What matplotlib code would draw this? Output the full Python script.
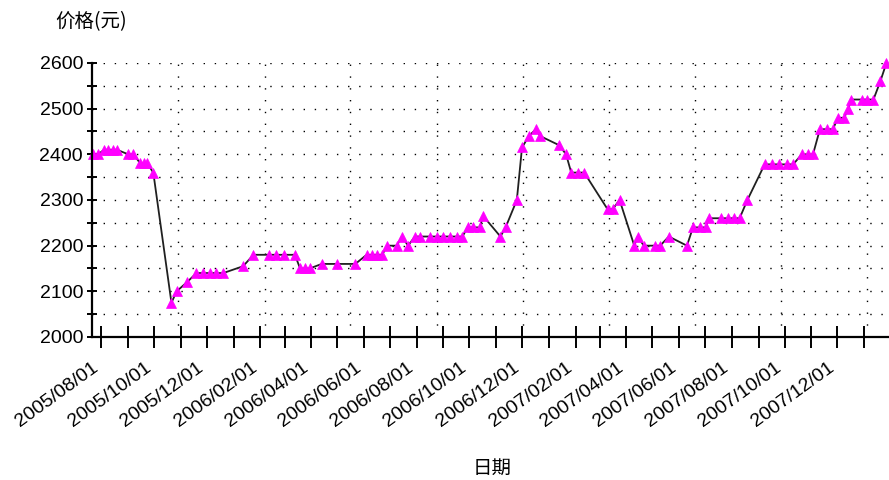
import matplotlib
matplotlib.use("Agg")
import matplotlib.pyplot as plt
import matplotlib.dates as mdates
import numpy as np

# ---- data ----
dates = [
    "2005-07-22", "2005-07-28", "2005-08-04", "2005-08-09", "2005-08-14", "2005-08-19",
    "2005-09-01", "2005-09-07", "2005-09-15", "2005-09-19", "2005-09-23", "2005-09-30",
    "2005-10-21", "2005-10-27", "2005-11-08", "2005-11-19", "2005-11-27", "2005-12-05",
    "2005-12-12", "2005-12-20", "2006-01-12", "2006-01-24", "2006-02-11", "2006-02-19",
    "2006-02-28", "2006-03-13", "2006-03-19", "2006-03-25", "2006-03-30", "2006-04-13",
    "2006-05-01", "2006-05-22", "2006-06-04", "2006-06-10", "2006-06-16", "2006-06-22",
    "2006-06-28", "2006-07-09", "2006-07-15", "2006-07-22", "2006-07-30", "2006-08-05",
    "2006-08-17", "2006-08-25", "2006-09-01", "2006-09-09", "2006-09-17", "2006-09-23",
    "2006-09-29", "2006-10-05", "2006-10-13", "2006-10-17", "2006-11-06", "2006-11-12",
    "2006-11-25", "2006-12-01", "2006-12-09", "2006-12-17", "2006-12-22", "2007-01-13",
    "2007-01-21", "2007-01-27", "2007-02-04", "2007-02-11", "2007-03-10", "2007-03-16",
    "2007-03-24", "2007-04-10", "2007-04-14", "2007-04-21", "2007-05-04", "2007-05-10",
    "2007-05-20", "2007-06-10", "2007-06-17", "2007-06-25", "2007-07-02", "2007-07-05",
    "2007-07-20", "2007-07-27", "2007-08-04", "2007-08-10", "2007-08-19", "2007-09-08",
    "2007-09-17", "2007-09-25", "2007-10-04", "2007-10-11", "2007-10-21", "2007-10-28",
    "2007-11-03", "2007-11-11", "2007-11-19", "2007-11-26", "2007-12-02", "2007-12-09",
    "2007-12-14", "2007-12-17", "2007-12-30", "2008-01-05", "2008-01-12", "2008-01-20",
    "2008-01-27",
]
prices = [
    2400, 2400, 2410, 2410, 2410, 2410,
    2400, 2400, 2380, 2380, 2380, 2360,
    2075, 2100, 2120, 2140, 2140, 2140,
    2140, 2140, 2155, 2180, 2180, 2180,
    2180, 2180, 2150, 2150, 2150, 2160,
    2160, 2160, 2180, 2180, 2180, 2180,
    2200, 2200, 2220, 2200, 2220, 2220,
    2220, 2220, 2220, 2220, 2220, 2220,
    2240, 2240, 2240, 2265, 2220, 2240,
    2300, 2415, 2440, 2455, 2440, 2420,
    2400, 2360, 2360, 2360, 2280, 2280,
    2300, 2200, 2220, 2200, 2200, 2200,
    2220, 2200, 2240, 2240, 2240, 2260,
    2260, 2260, 2260, 2260, 2300, 2378,
    2378, 2378, 2378, 2378, 2400, 2400,
    2400, 2455, 2455, 2455, 2480, 2480,
    2500, 2520, 2520, 2520, 2520, 2560,
    2600,
]
y_ticks = [2000, 2100, 2200, 2300, 2400, 2500, 2600]
y_label = "价格(元)"
x_label = "日期"

# ---- figure ----
W, H = 889, 480
fig = plt.figure(figsize=(W / 100, H / 100), dpi=100)
plt.rcParams['font.family'] = ['Liberation Sans', 'DejaVu Sans']
ax = fig.add_axes([92 / W, (H - 337) / H, (W - 92) / W, 274 / H])

x = np.array(dates, dtype="datetime64[D]")
ax.plot(x, prices, color="#202020", lw=1.3, zorder=3, clip_on=False)
ax.plot(x, prices, linestyle="none", marker="^", markersize=7.2,
        markerfacecolor="#ff00ff", markeredgecolor="#ff00ff", markeredgewidth=0.5,
        zorder=4, clip_on=False)

ax.set_xlim(np.datetime64("2005-07-21"), np.datetime64("2008-01-30"))
ax.set_ylim(2000, 2600)

# dotted grid
for yv in np.arange(2050, 2601, 50):
    ax.axhline(yv, color="black", lw=1.0, linestyle=(0, (1, 7)), zorder=1)
vgrid = ["2005-10-29", "2006-02-06", "2006-05-16", "2006-08-24", "2006-12-02",
         "2007-03-12", "2007-06-19", "2007-09-27", "2008-01-05"]
for d in vgrid:
    ax.axvline(np.datetime64(d), color="black", lw=1.0, linestyle=(0, (1, 7.5)), zorder=1)

# spines
for s in ["top", "right"]:
    ax.spines[s].set_visible(False)
for s in ["left", "bottom"]:
    ax.spines[s].set_linewidth(1.6)
    ax.spines[s].set_color("black")
    ax.spines[s].set_zorder(5)

# y ticks
ax.set_yticks(y_ticks)
ax.set_yticks(np.arange(2050, 2600, 100), minor=True)
ax.tick_params(axis="y", which="both", direction="inout", length=6.5, width=1.4,
               pad=3.2, labelsize=14, colors="black")

# x ticks
ax.xaxis.set_major_locator(mdates.MonthLocator(bymonth=[2, 4, 6, 8, 10, 12]))
ax.xaxis.set_minor_locator(mdates.MonthLocator())
ax.xaxis.set_major_formatter(mdates.DateFormatter("%Y/%m/%d"))
ax.tick_params(axis="x", which="both", direction="inout", length=16.5, width=1.4,
               pad=7.5, labelsize=14, colors="black")
for lbl in ax.get_xticklabels():
    lbl.set_rotation(36)
    lbl.set_ha("right")

cjk = ["Noto Sans CJK SC", "DejaVu Sans"]
fig.text(55 / W, 1 - 22 / H, y_label, ha="left", va="center", fontsize=14, family=cjk)
fig.text(492 / W, 1 - 468 / H, x_label, ha="center", va="center", fontsize=14, family=cjk)

fig.savefig("out.png", dpi=100)
